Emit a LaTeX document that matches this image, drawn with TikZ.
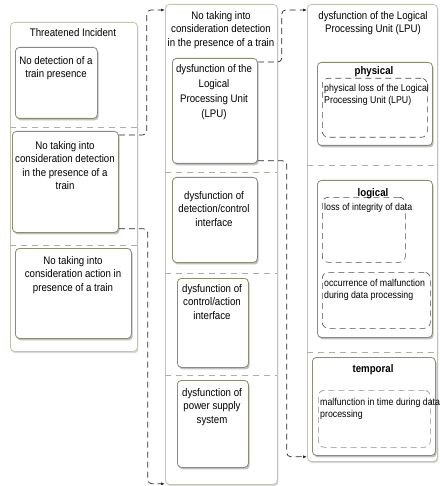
\documentclass[tikz,border=0pt]{standalone}
\usepackage{fontspec}
\setmainfont{Liberation Sans}[FakeStretch=0.88]
\usepackage{tikz}
\usetikzlibrary{arrows.meta,shadows}

\definecolor{outercol}{RGB}{196,196,176}
\definecolor{innercol}{RGB}{140,140,112}

\begin{document}
\begin{tikzpicture}[x=1pt,y=-1pt,
  outerbox/.style={draw=outercol,fill=white,rounded corners=4pt,line width=0.8pt,inner sep=0pt,anchor=north west,
    drop shadow={shadow xshift=1pt,shadow yshift=-1.8pt,fill=black!30}},
  innerbox/.style={draw=innercol,fill=white,rounded corners=4pt,line width=0.8pt,inner sep=0pt,anchor=north west,
    drop shadow={shadow xshift=1.3pt,shadow yshift=-2pt,fill=black!50}},
  subbox/.style={draw=black!70,dash pattern=on 6pt off 4pt,rounded corners=6pt,line width=0.6pt,inner sep=0pt,anchor=north west},
  divider/.style={draw=outercol!90!black,dash pattern=on 6pt off 5pt,line width=0.8pt},
  conn/.style={draw=black!85,dash pattern=on 6pt off 4pt,line width=0.7pt,rounded corners=4pt,-{Latex[length=4pt,width=3pt]}},
  btxt/.style={font=\fontsize{11}{13.5}\selectfont,align=center,inner sep=0pt,anchor=north},
  htxt/.style={font=\fontsize{11}{13.5}\selectfont\bfseries,inner sep=0pt,anchor=north},
  stxt/.style={font=\fontsize{10}{12.5}\selectfont,align=left,inner sep=0pt,anchor=north west}]

\useasboundingbox (0,0) rectangle (439,486);

% Outer boxes
\node[outerbox,minimum width=127pt,minimum height=329pt] (ti) at (10,22) {};
\node[outerbox,minimum width=112pt,minimum height=480pt] (mo) at (165,4) {};
\node[outerbox,minimum width=130pt,minimum height=457pt] (ro) at (307,4) {};

% Dividers
\draw[divider] (10,127) -- (137,127);
\draw[divider] (10,245) -- (137,245);
\draw[divider] (165,172) -- (277,172);
\draw[divider] (165,273) -- (277,273);
\draw[divider] (165,375) -- (277,375);
\draw[divider] (307,165) -- (437,165);
\draw[divider] (307,352) -- (437,352);

% Inner boxes, left
\node[innerbox,minimum width=82pt,minimum height=71pt] (nd) at (15,47) {};
\node[innerbox,minimum width=106pt,minimum height=101pt] (ntd) at (12,131) {};
\node[innerbox,minimum width=116pt,minimum height=90pt] (nta) at (15,248) {};

% Inner boxes, middle
\node[innerbox,minimum width=85pt,minimum height=105pt] (lpu) at (172,58) {};
\node[innerbox,minimum width=85pt,minimum height=85pt] (dci) at (172,177) {};
\node[innerbox,minimum width=71pt,minimum height=89pt] (cai) at (177,278) {};
\node[innerbox,minimum width=71pt,minimum height=87pt] (pss) at (177,380) {};

% Inner boxes, right
\node[innerbox,minimum width=115pt,minimum height=83pt] (phy) at (317,62) {};
\node[innerbox,minimum width=115pt,minimum height=157pt] (log) at (317,180) {};
\node[innerbox,minimum width=123pt,minimum height=98pt] (tem) at (312,357) {};

% Dashed sub boxes
\node[subbox,minimum width=105pt,minimum height=59pt] (plo) at (322,78) {};
\node[subbox,minimum width=83pt,minimum height=65pt] (lid) at (322,197) {};
\node[subbox,minimum width=108pt,minimum height=56pt] (omd) at (322,272) {};
\node[subbox,minimum width=112pt,minimum height=57pt,draw=black!45] (mtd) at (318,390) {};

% Texts
\node[btxt] (ti-t) at (73,28) {Threatened Incident};
\node[btxt] (nd-t) at (56,56) {No detection of a\\train presence};
\node[btxt] (ntd-t) at (65,141) {No taking into\\consideration detection\\in the presence of a\\train};
\node[btxt] (nta-t) at (73,256) {No taking into\\consideration action in\\presence of a train};
\node[btxt] (mo-t) at (221,11) {No taking into\\consideration detection\\in the presence of a train};
\node[btxt,font=\fontsize{11}{15}\selectfont] (lpu-t) at (214,64) {dysfunction of the\\Logical\\Processing Unit\\(LPU)};
\node[btxt] (dci-t) at (214,191) {dysfunction of\\detection/control\\interface};
\node[btxt] (cai-t) at (212,284) {dysfunction of\\control/action\\interface};
\node[btxt] (pss-t) at (212,388) {dysfunction of\\power supply\\system};
\node[btxt] (ro-t) at (373,11) {dysfunction of the Logical\\Processing Unit (LPU)};
\node[htxt] (phy-t) at (374,66) {physical};
\node[htxt] (log-t) at (373,188) {logical};
\node[htxt] (tem-t) at (373,364) {temporal};
\node[stxt] (plo-t) at (324,84) {physical loss of the Logical\\Processing Unit (LPU)};
\node[stxt] (lid-t) at (324,203) {loss of integrity of data};
\node[stxt] (omd-t) at (324,279) {occurrence of malfunction\\during data processing};
\node[stxt] (mtd-t) at (320,398) {malfunction in time during data\\processing};

% Connectors
\draw[conn] ([yshift=-4pt]ntd.north east) -- ++(28,0) |- ([yshift=-6pt]mo.north west);
\draw[conn] ([yshift=4pt]ntd.south east) -- ++(29,0) |- ([yshift=1pt]mo.south west);
\draw[conn] ([yshift=-4pt]lpu.north east) -- ++(24,0) |- ([yshift=-6pt]ro.north west);
\draw[conn] ([yshift=3pt]lpu.south east) -- ++(29,0) |- ([yshift=5pt]ro.south west);

\end{tikzpicture}
\end{document}
